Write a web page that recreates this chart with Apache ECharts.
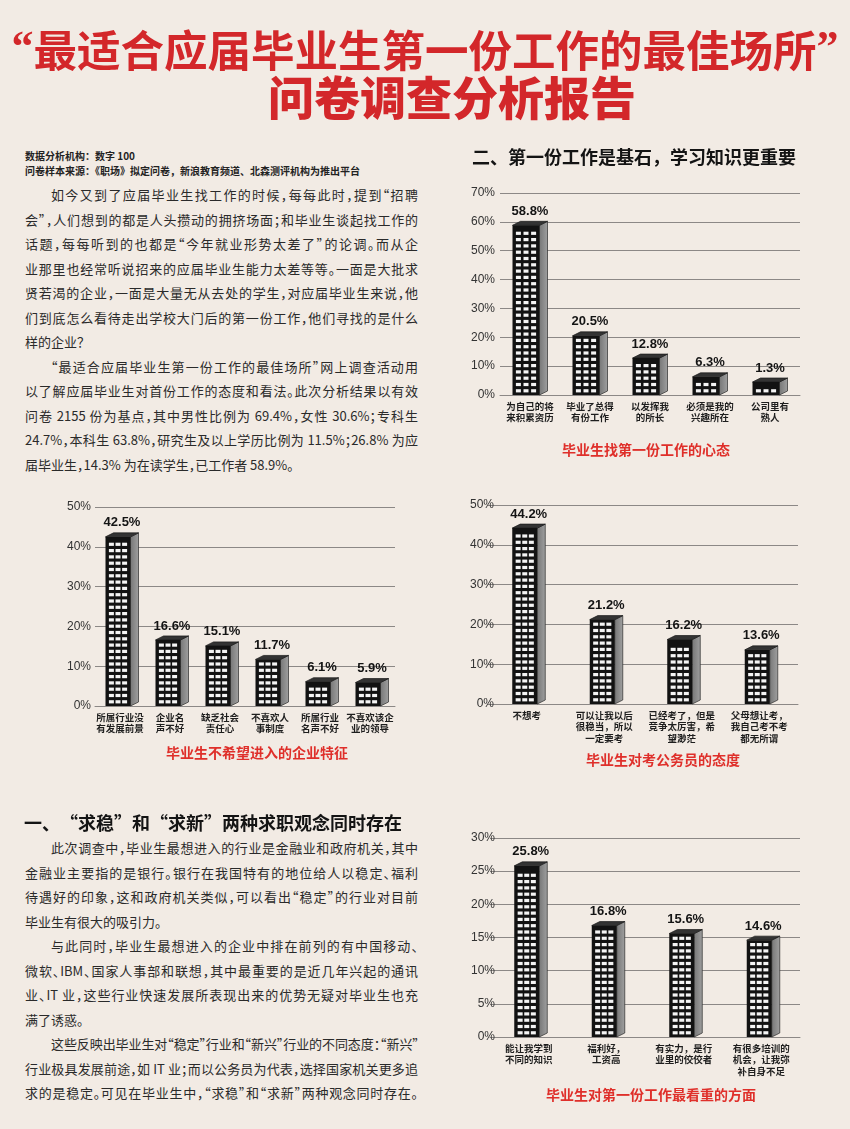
<!DOCTYPE html>
<html>
<head>
<meta charset="utf-8">
<script src="https://cdn.jsdelivr.net/npm/echarts@6/dist/echarts.min.js"></script>
<style>
  body { margin: 0; background: #f2ebe4; }
  #page { position: relative; width: 850px; height: 1129px; overflow: hidden; }
  #chart { position: absolute; left: 0; top: 0; width: 850px; height: 1129px; }
  .col { position: absolute; left: 25px; width: 393px; color: #2a2a2a;
         font-family: "Noto Sans CJK SC", sans-serif; font-size: 13px; line-height: 24.5px;
         font-feature-settings: "halt"; }
  .col div { text-align: justify; text-align-last: justify; }
  .col div.end { text-align-last: left; }
  .col div.ind { padding-left: 2em; }
  .col div.tight { letter-spacing: -0.8px; }
  .info { position: absolute; left: 25px; top: 148px; font-family: "Noto Sans CJK SC", sans-serif;
          font-size: 10px; line-height: 15px; font-weight: bold; color: #222; }
</style>
</head>
<body>
<div id="page">
  <div class="info">
    <div>数据分析机构：数字 100</div>
    <div>问卷样本来源：《职场》拟定问卷，新浪教育频道、北森测评机构为推出平台</div>
  </div>
  <div class="col" style="top:183px">
    <div class="ind">如今又到了应届毕业生找工作的时候，每每此时，提到“招聘</div>
    <div>会”，人们想到的都是人头攒动的拥挤场面；和毕业生谈起找工作的</div>
    <div>话题，每每听到的也都是“今年就业形势太差了”的论调。而从企</div>
    <div>业那里也经常听说招来的应届毕业生能力太差等等。一面是大批求</div>
    <div>贤若渴的企业，一面是大量无从去处的学生，对应届毕业生来说，他</div>
    <div>们到底怎么看待走出学校大门后的第一份工作，他们寻找的是什么</div>
    <div class="end">样的企业？</div>
    <div class="ind">“最适合应届毕业生第一份工作的最佳场所”网上调查活动用</div>
    <div>以了解应届毕业生对首份工作的态度和看法。此次分析结果以有效</div>
    <div>问卷 2155 份为基点，其中男性比例为 69.4%，女性 30.6%；专科生</div>
    <div>24.7%，本科生 63.8%，研究生及以上学历比例为 11.5%；26.8% 为应</div>
    <div class="end">届毕业生，14.3% 为在读学生，已工作者 58.9%。</div>
  </div>
  <div class="col" style="top:836px">
    <div class="ind">此次调查中，毕业生最想进入的行业是金融业和政府机关，其中</div>
    <div>金融业主要指的是银行。银行在我国特有的地位给人以稳定、福利</div>
    <div>待遇好的印象，这和政府机关类似，可以看出“稳定”的行业对目前</div>
    <div class="end">毕业生有很大的吸引力。</div>
    <div class="ind">与此同时，毕业生最想进入的企业中排在前列的有中国移动、</div>
    <div>微软、IBM、国家人事部和联想，其中最重要的是近几年兴起的通讯</div>
    <div>业、IT 业，这些行业快速发展所表现出来的优势无疑对毕业生也充</div>
    <div class="end">满了诱惑。</div>
    <div class="ind tight">这些反映出毕业生对“稳定”行业和“新兴”行业的不同态度：“新兴”</div>
    <div>行业极具发展前途，如 IT 业；而以公务员为代表，选择国家机关更多追</div>
    <div>求的是稳定。可见在毕业生中，“求稳”和“求新”两种观念同时存在。</div>
  </div>
  <div id="chart"></div>
</div>
<script>
// 毕业生找第一份工作的心态
const mentalityCats = ['为自己的将\n来积累资历', '毕业了总得\n有份工作', '以发挥我\n的所长', '必须是我的\n兴趣所在', '公司里有\n熟人'];
const mentalityVals = [58.8, 20.5, 12.8, 6.3, 1.3];

// 毕业生不希望进入的企业特征
const avoidCats = ['所属行业没\n有发展前景', '企业名\n声不好', '缺乏社会\n责任心', '不喜欢人\n事制度', '所属行业\n名声不好', '不喜欢该企\n业的领导'];
const avoidVals = [42.5, 16.6, 15.1, 11.7, 6.1, 5.9];

// 毕业生对考公务员的态度
const civilCats = ['不想考', '可以让我以后\n很稳当，所以\n一定要考', '已经考了，但是\n竞争太厉害，希\n望渺茫', '父母想让考，\n我自己考不考\n都无所谓'];
const civilVals = [44.2, 21.2, 16.2, 13.6];

// 毕业生对第一份工作最看重的方面
const focusCats = ['能让我学到\n不同的知识', '福利好，\n工资高', '有实力，是行\n业里的佼佼者', '有很多培训的\n机会，让我弥\n补自身不足'];
const focusVals = [25.8, 16.8, 15.6, 14.6];

// y axis ranges: [max, interval]
const mentalityTicks = [70, 10];
const avoidTicks = [50, 10];
const civilTicks = [50, 10];
const focusTicks = [30, 5];

const CJK = '"Noto Sans CJK SC", sans-serif';
const RED = '#df2f2a';
const GRIDLINE = '#8c8886';

const chart = echarts.init(document.getElementById('chart'), null, { renderer: 'canvas' });

// a bar drawn as a little office block: black front with windows, grey side, dark roof
function building(frontW, shift) {
  return function (params, api) {
    const idx = api.value(0);
    const val = api.value(1);
    const base = api.coord([idx, 0]);
    const top = api.coord([idx, val]);
    const x0 = base[0] - frontW / 2 + shift;
    const x1 = x0 + frontW;
    const y1 = base[1];
    let y0 = top[1];
    if (y1 - y0 < 13) y0 = y1 - 13;
    const dx = 8, dy = 4;
    const kids = [];
    kids.push({
      type: 'polygon',
      shape: { points: [[x1, y0], [x1 + dx, y0 - dy], [x1 + dx, y1 - dy], [x1, y1]] },
      style: {
        fill: new echarts.graphic.LinearGradient(0, 0, 1, 0, [
          { offset: 0, color: '#767676' }, { offset: 1, color: '#a0a0a0' }
        ]),
        stroke: '#2a2a2a', lineWidth: 0.7
      }
    });
    kids.push({
      type: 'polygon',
      shape: { points: [[x0, y0], [x0 + dx, y0 - dy], [x1 + dx, y0 - dy], [x1, y0]] },
      style: { fill: '#333', stroke: '#1a1a1a', lineWidth: 0.7 }
    });
    kids.push({
      type: 'rect',
      shape: { x: x0, y: y0, width: frontW, height: y1 - y0 },
      style: { fill: '#121212' }
    });
    const winW = 5, winH = 3.2, pitch = 6.3, padX = 3.4;
    const gapX = (frontW - 2 * padX - 3 * winW) / 2;
    for (let wy = y1 - 2.6 - winH; wy >= y0 + 2.8; wy -= pitch) {
      for (let c = 0; c < 3; c++) {
        kids.push({
          type: 'rect',
          shape: { x: x0 + padX + c * (winW + gapX), y: wy, width: winW, height: winH },
          style: { fill: '#f4f4f4' }
        });
      }
    }
    kids.push({
      type: 'text',
      style: {
        text: val.toFixed(1) + '%',
        x: (x0 + x1 + dx) / 2, y: y0 - dy - 10,
        align: 'center', verticalAlign: 'middle',
        font: 'bold 13px "Liberation Sans", Arial, sans-serif', fill: '#141414'
      }
    });
    return { type: 'group', children: kids };
  };
}

function xAxisFor(i, cats) {
  return {
    type: 'category', gridIndex: i, data: cats,
    axisLine: { show: true, lineStyle: { color: GRIDLINE, width: 1 } },
    axisTick: { show: false },
    axisLabel: {
      interval: 0, margin: 5, color: '#1e1e1e',
      fontFamily: CJK, fontWeight: 'bold', fontSize: 9.5, lineHeight: 11.8
    }
  };
}

function yAxisFor(i, ticks, offset, margin) {
  return {
    type: 'value', gridIndex: i, min: 0, max: ticks[0], interval: ticks[1],
    offset: offset,
    axisLine: { show: false }, axisTick: { show: false },
    axisLabel: {
      formatter: '{value}%', margin: margin, color: '#333',
      fontFamily: '"Liberation Sans", Arial, sans-serif', fontSize: 12
    },
    splitLine: { lineStyle: { color: GRIDLINE, width: 1 } }
  };
}

function seriesFor(i, vals, frontW, shift) {
  return {
    type: 'custom', xAxisIndex: i, yAxisIndex: i, clip: false,
    renderItem: building(frontW, shift),
    encode: { x: 0, y: 1 },
    data: vals.map((v, k) => [k, v])
  };
}

function caption(x, y, text) {
  return {
    type: 'text', x: x, y: y,
    style: { text: text, font: 'bold 14px ' + CJK, fill: RED, align: 'center', verticalAlign: 'middle' }
  };
}

const option = {
  animation: false,
  backgroundColor: 'transparent',
  grid: [
    { left: 500, top: 193, width: 300, height: 202 },
    { left: 95, top: 507, width: 300, height: 199 },
    { left: 488, top: 505, width: 310, height: 199 },
    { left: 490, top: 838, width: 310, height: 199 }
  ],
  xAxis: [
    xAxisFor(0, mentalityCats),
    xAxisFor(1, avoidCats),
    xAxisFor(2, civilCats),
    xAxisFor(3, focusCats)
  ],
  yAxis: [
    yAxisFor(0, mentalityTicks, 0, 5),
    yAxisFor(1, avoidTicks, 0, 4),
    yAxisFor(2, civilTicks, -9, 3),
    yAxisFor(3, focusTicks, -9, 4)
  ],
  series: [
    seriesFor(0, mentalityVals, 27, -4),
    seriesFor(1, avoidVals, 25, -2),
    seriesFor(2, civilVals, 25, -2),
    seriesFor(3, focusVals, 25, -2)
  ],
  graphic: [
    {
      type: 'text', x: 425, y: 50,
      style: {
        text: '{q|“}最适合应届毕业生第一份工作的最佳场所{q|”}',
        fontFamily: CJK, fontWeight: 'bold', fontSize: 43.5,
        fill: '#d3272a', align: 'center', verticalAlign: 'middle',
        rich: { q: { fontFamily: '"Liberation Serif", serif', fontWeight: 'bold', fontSize: 44, fill: '#d3272a' } }
      }
    },
    {
      type: 'text', x: 452, y: 98,
      style: { text: '问卷调查分析报告', font: '900 46px ' + CJK,
               fill: '#d3272a', align: 'center', verticalAlign: 'middle' }
    },
    {
      type: 'text', x: 634, y: 157,
      style: { text: '二、第一份工作是基石，学习知识更重要', font: 'bold 18px ' + CJK,
               fill: '#141414', align: 'center', verticalAlign: 'middle' }
    },
    {
      type: 'text', x: 24, y: 823,
      style: { text: '一、“求稳”和“求新”两种求职观念同时存在', font: 'bold 18px ' + CJK,
               fill: '#141414', align: 'left', verticalAlign: 'middle' }
    },
    caption(646, 450, '毕业生找第一份工作的心态'),
    caption(257, 753, '毕业生不希望进入的企业特征'),
    caption(663, 760, '毕业生对考公务员的态度'),
    caption(651, 1095, '毕业生对第一份工作最看重的方面')
  ]
};

chart.setOption(option);
</script>
</body>
</html>
